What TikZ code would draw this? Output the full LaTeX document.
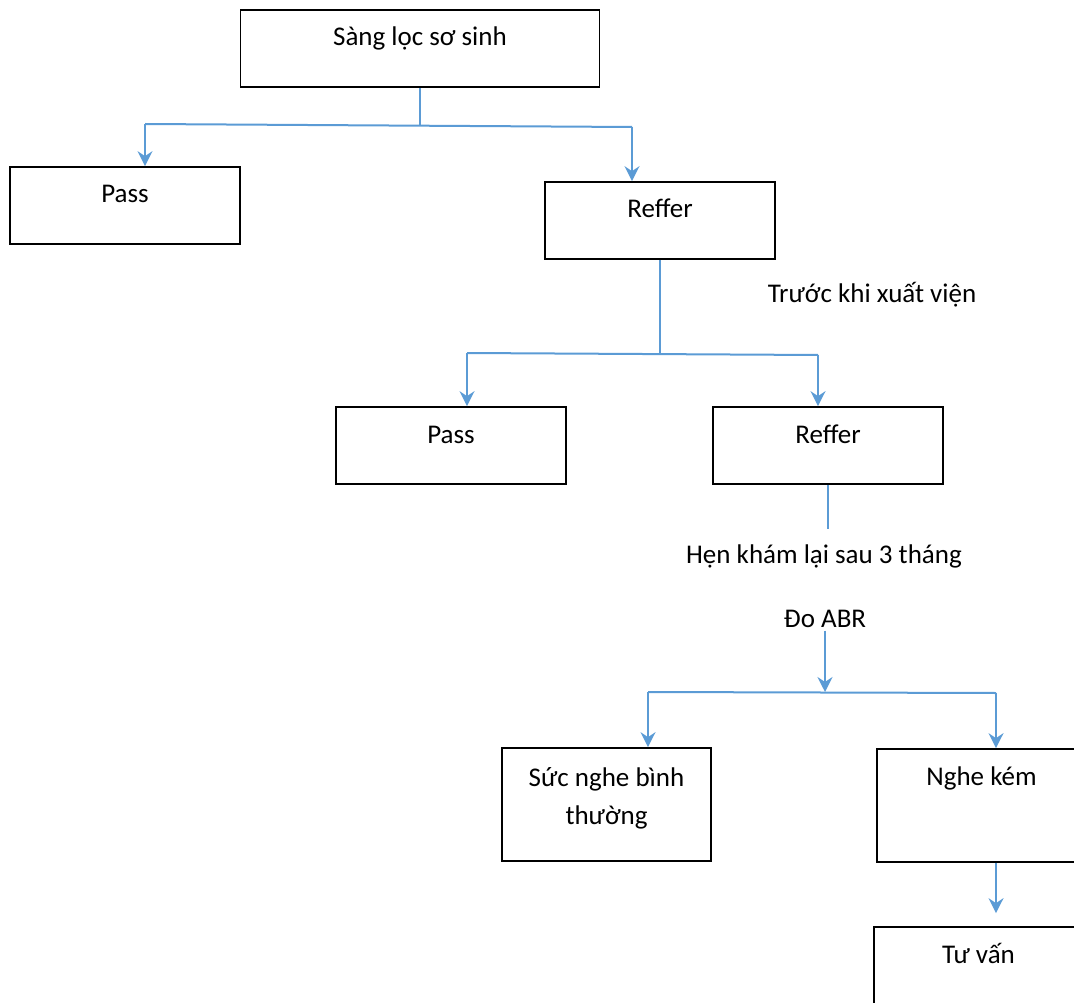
\documentclass[tikz,border=0pt]{standalone}
\usepackage{fontspec}
\setmainfont{Carlito}
\usepackage[dvipsnames]{xcolor}
\usepackage{tikz}
\usetikzlibrary{arrows.meta}
\definecolor{Link}{HTML}{5B9BD5}

\begin{document}
\begin{tikzpicture} [x = 1pt, y = -1pt,
    font = \fontsize{27}{38}\selectfont,
    box/.style = {draw,
    line width = 1.7pt,
    inner sep = 0pt,
    minimum width = 230pt,
    text height = 36pt,
    text depth = 41pt,
    align = center},
    tall/.style = {box,
    minimum width = 209pt,
    text depth = 77pt},
    link/.style = {draw = Link,
    line width = 2pt},
    arrow/.style = {link,
    -{Stealth[length = 15pt, width = 15pt, inset = 5pt]}}]

\clip (0,0) rectangle (1074,1003);

\node (S) at (420,48.5) [box, minimum width = 359pt] {Sàng lọc sơ sinh};
\node (P1) at (125,205.5) [box] {Pass};
\node (R1) at (660,220.5) [box] {Reffer};
\node (P2) at (451,445.5) [box] {Pass};
\node (R2) at (828,445.5) [box] {Reffer};
\node (N1) at (606.5,804.5) [tall, text height = 76pt, text depth = 37pt] {Sức nghe bình\\thường};
\node (N2) at (981.5,805.5) [tall] {Nghe kém};
\node (T) at (978.5,983.5) [tall] {Tư vấn};

\node (B) at (872,302) [anchor = base] {Trước khi xuất viện};
\node (H) at (824,563) [anchor = base] {Hẹn khám lại sau 3 tháng};
\node (D) at (825,627) [anchor = base] {Đo ABR};

\coordinate (A1) at (420,125.5);
\coordinate (L1) at (145,124);
\coordinate (E1) at (632,127);
\coordinate (A2) at (660,354);
\coordinate (L2) at (467,353);
\coordinate (E2) at (818,355);
\coordinate (C3) at (828,529);
\coordinate (A4) at (826,692);
\coordinate (L4) at (648,692);
\coordinate (E4) at (996,693);

\draw [link] (S.south) -- (A1);
\draw [link] (L1) -- (E1);
\draw [arrow] (L1) -- (L1 |- P1.north);
\draw [arrow] (E1) -- (E1 |- R1.north);

\draw [link] (R1.south) -- (A2);
\draw [link] (L2) -- (E2);
\draw [arrow] (L2) -- (L2 |- P2.north);
\draw [arrow] (E2) -- (E2 |- R2.north);

\draw [link] (R2.south) -- (C3);

\draw [arrow] (D) -- (D |- A4);
\draw [link] (L4) -- (E4);
\draw [arrow] (L4) -- (L4 |- N1.north);
\draw [arrow] (E4) -- (E4 |- N2.north);
\draw [arrow] (N2.south -| E4) -- ([yshift = 13pt] T.north -| E4);

\end{tikzpicture}
\end{document}
